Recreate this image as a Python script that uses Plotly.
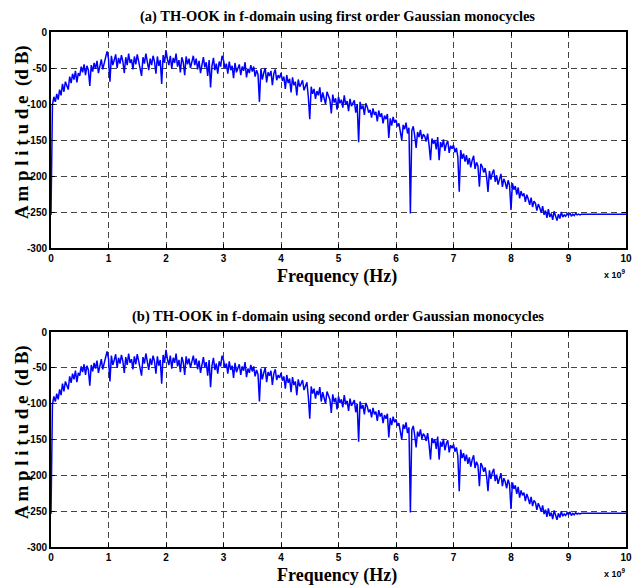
import numpy as np
import plotly.graph_objects as go

freq_step_ghz = 0.025
amp_db = [
    # 0.000 - 0.475 GHz
    -254, -101, -90, -97, -86, -94, -80, -88, -72, -83, -69, -76, -80, -62, -71, -58, -66, -54, -70, -57,
    # 0.5 - 0.975
    -61, -48, -56, -45, -60, -47, -53, -75, -46, -55, -43, -51, -40, -57, -46, -38, -52, -43, -36, -27,
    # 1.0 - 1.475
    -37, -69, -33, -46, -39, -31, -50, -36, -44, -32, -41, -57, -35, -46, -30, -43, -38, -52, -34, -45,
    # 1.5 - 1.975
    -31, -42, -49, -61, -35, -44, -30, -40, -53, -37, -46, -33, -41, -58, -34, -47, -39, -72, -32, -43,
    # 2.0 - 2.475
    -25, -38, -46, -33, -51, -36, -43, -30, -48, -39, -56, -35, -42, -60, -34, -45, -37, -50, -41, -33,
    # 2.5 - 2.975
    -46, -37, -52, -40, -57, -43, -35, -49, -42, -61, -39, -77, -47, -36, -53, -44, -58, -41, -48, -33,
    # 3.0 - 3.475
    -39, -50, -44, -58, -41, -53, -47, -64, -43, -56, -49, -45, -60, -48, -54, -42, -63, -51, -57, -46,
    # 3.5 - 3.975
    -55, -48, -62, -53, -59, -97, -51, -66, -57, -50, -70, -56, -61, -54, -74, -58, -52, -67, -60, -64,
    # 4.0 - 4.475
    -57, -68, -62, -79, -60, -71, -65, -84, -63, -74, -69, -88, -66, -76, -72, -67, -81, -75, -70, -90,
    # 4.5 - 4.975
    -121, -76, -86, -79, -93, -82, -88, -77, -97, -84, -91, -100, -83, -89, -94, -113, -87, -98, -92, -108,
    # 5.0 - 5.475
    -90, -99, -94, -105, -88, -101, -96, -110, -93, -103, -98, -95, -112, -100, -153, -97, -107, -102, -115, -99,
    # 5.5 - 5.975
    -104, -112, -108, -119, -106, -115, -111, -124, -109, -118, -113, -127, -116, -121, -114, -147, -120, -130, -118, -126,
    # 6.0 - 6.475
    -122, -131, -127, -138, -150, -129, -135, -126, -141, -133, -252, -137, -131, -144, -161, -139, -146, -136, -149, -142,
    # 6.5 - 6.975
    -145, -152, -141, -157, -178, -148, -155, -150, -163, -146, -178, -153, -160, -149, -165, -156, -151, -168, -158, -162,
    # 7.0 - 7.475
    -157, -167, -161, -173, -222, -164, -176, -169, -180, -171, -184, -175, -188, -178, -172, -190, -181, -186, -215, -183,
    # 7.5 - 7.975
    -187, -195, -189, -201, -222, -193, -205, -196, -191, -208, -199, -212, -202, -197, -215, -204, -209, -218, -206, -213,
    # 8.0 - 8.475
    -247, -210, -219, -214, -226, -216, -231, -221, -228, -224, -236, -226, -232, -240, -230, -243, -235, -238, -248, -239,
    # 8.5 - 8.975
    -244, -251, -242, -254, -248, -258, -246, -257, -252, -261, -249, -256, -262, -253, -259, -250, -257, -254, -256, -252,
    # 9.0 - 9.475
    -255, -251, -256, -253, -255, -252, -254, -253, -254, -253, -253, -253, -253, -253, -253, -253, -253, -253, -253, -253,
    # 9.5 - 10.0
    -253, -253, -253, -253, -253, -253, -253, -253, -253, -253, -253, -253, -253, -253, -253, -253, -253, -253, -253, -253,
    -253,
]

x_ticks = [0, 1, 2, 3, 4, 5, 6, 7, 8, 9, 10]
y_ticks = [0, -50, -100, -150, -200, -250, -300]
titles = [
    "(a) TH-OOK in f-domain using first order Gaussian monocycles",
    "(b) TH-OOK in f-domain using second order Gaussian monocycles",
]
x_title = "Frequency (Hz)"
y_title = "A m p l i t u d e  (d B)"

freq_ghz = np.arange(len(amp_db)) * freq_step_ghz

W, H = 642, 588
# plot areas in pixels: (left, top, right, bottom)
areas = [(51, 32, 626, 248), (51, 332, 626, 547)]

fig = go.Figure()
serif = "Liberation Serif"
sans = "Liberation Sans Narrow, Liberation Sans, Arial"

for i, (l, t, r, b) in enumerate(areas):
    xa = "x" if i == 0 else f"x{i+1}"
    ya = "y" if i == 0 else f"y{i+1}"
    fig.add_trace(go.Scatter(x=freq_ghz, y=amp_db, mode="lines",
                             line=dict(color="#0000FF", width=1.5),
                             xaxis=xa, yaxis=ya, showlegend=False,
                             hoverinfo="skip"))
    ax_common = dict(showline=True, linecolor="black", linewidth=2, mirror="ticks",
                     ticks="inside", ticklen=4, tickcolor="black", tickwidth=1,
                     showgrid=True, gridcolor="#444444", gridwidth=1, griddash="6px,4px",
                     zeroline=False, automargin=False,
                     tickfont=dict(family=sans, size=10, color="black", weight="bold"))
    xkey = "xaxis" if i == 0 else f"xaxis{i+1}"
    ykey = "yaxis" if i == 0 else f"yaxis{i+1}"
    fig.update_layout(**{
        xkey: dict(domain=[l / W, r / W], anchor=ya, range=[0, 10],
                   tickvals=x_ticks, ticktext=[str(v) for v in x_ticks], **ax_common),
        ykey: dict(domain=[1 - b / H, 1 - t / H], anchor=xa, range=[-300, 0],
                   tickvals=y_ticks, ticktext=[str(v) for v in y_ticks], **ax_common),
    })
    # subplot title
    fig.add_annotation(text=f"<b>{titles[i]}</b>", x=338 / W, y=1 - (t - 16) / H,
                       xref="paper", yref="paper", showarrow=False,
                       font=dict(family=serif, size=14.5, color="black"),
                       xanchor="center", yanchor="middle")
    # x title
    fig.add_annotation(text=f"<b>{x_title}</b>", x=337 / W, y=1 - (b + 28) / H,
                       xref="paper", yref="paper", showarrow=False,
                       font=dict(family=serif, size=18, color="black"),
                       xanchor="center", yanchor="middle")
    # y title
    fig.add_annotation(text=f"<b>{y_title}</b>", x=22 / W, y=1 - (t + 100) / H,
                       xref="paper", yref="paper", showarrow=False, textangle=-90,
                       font=dict(family=serif, size=19, color="black"),
                       xanchor="center", yanchor="middle")
    # exponent label
    fig.add_annotation(text="<b>x 10<sup>9</sup></b>", x=615 / W, y=1 - (b + 26) / H,
                       xref="paper", yref="paper", showarrow=False,
                       font=dict(family=sans, size=9, color="black"),
                       xanchor="center", yanchor="middle")

fig.update_layout(width=W, height=H, margin=dict(l=0, r=0, t=0, b=0),
                  paper_bgcolor="white", plot_bgcolor="white")
fig.write_html("out.html", config={"displayModeBar": False},
               post_script="document.body.style.margin='0px';document.body.style.padding='0px';")
